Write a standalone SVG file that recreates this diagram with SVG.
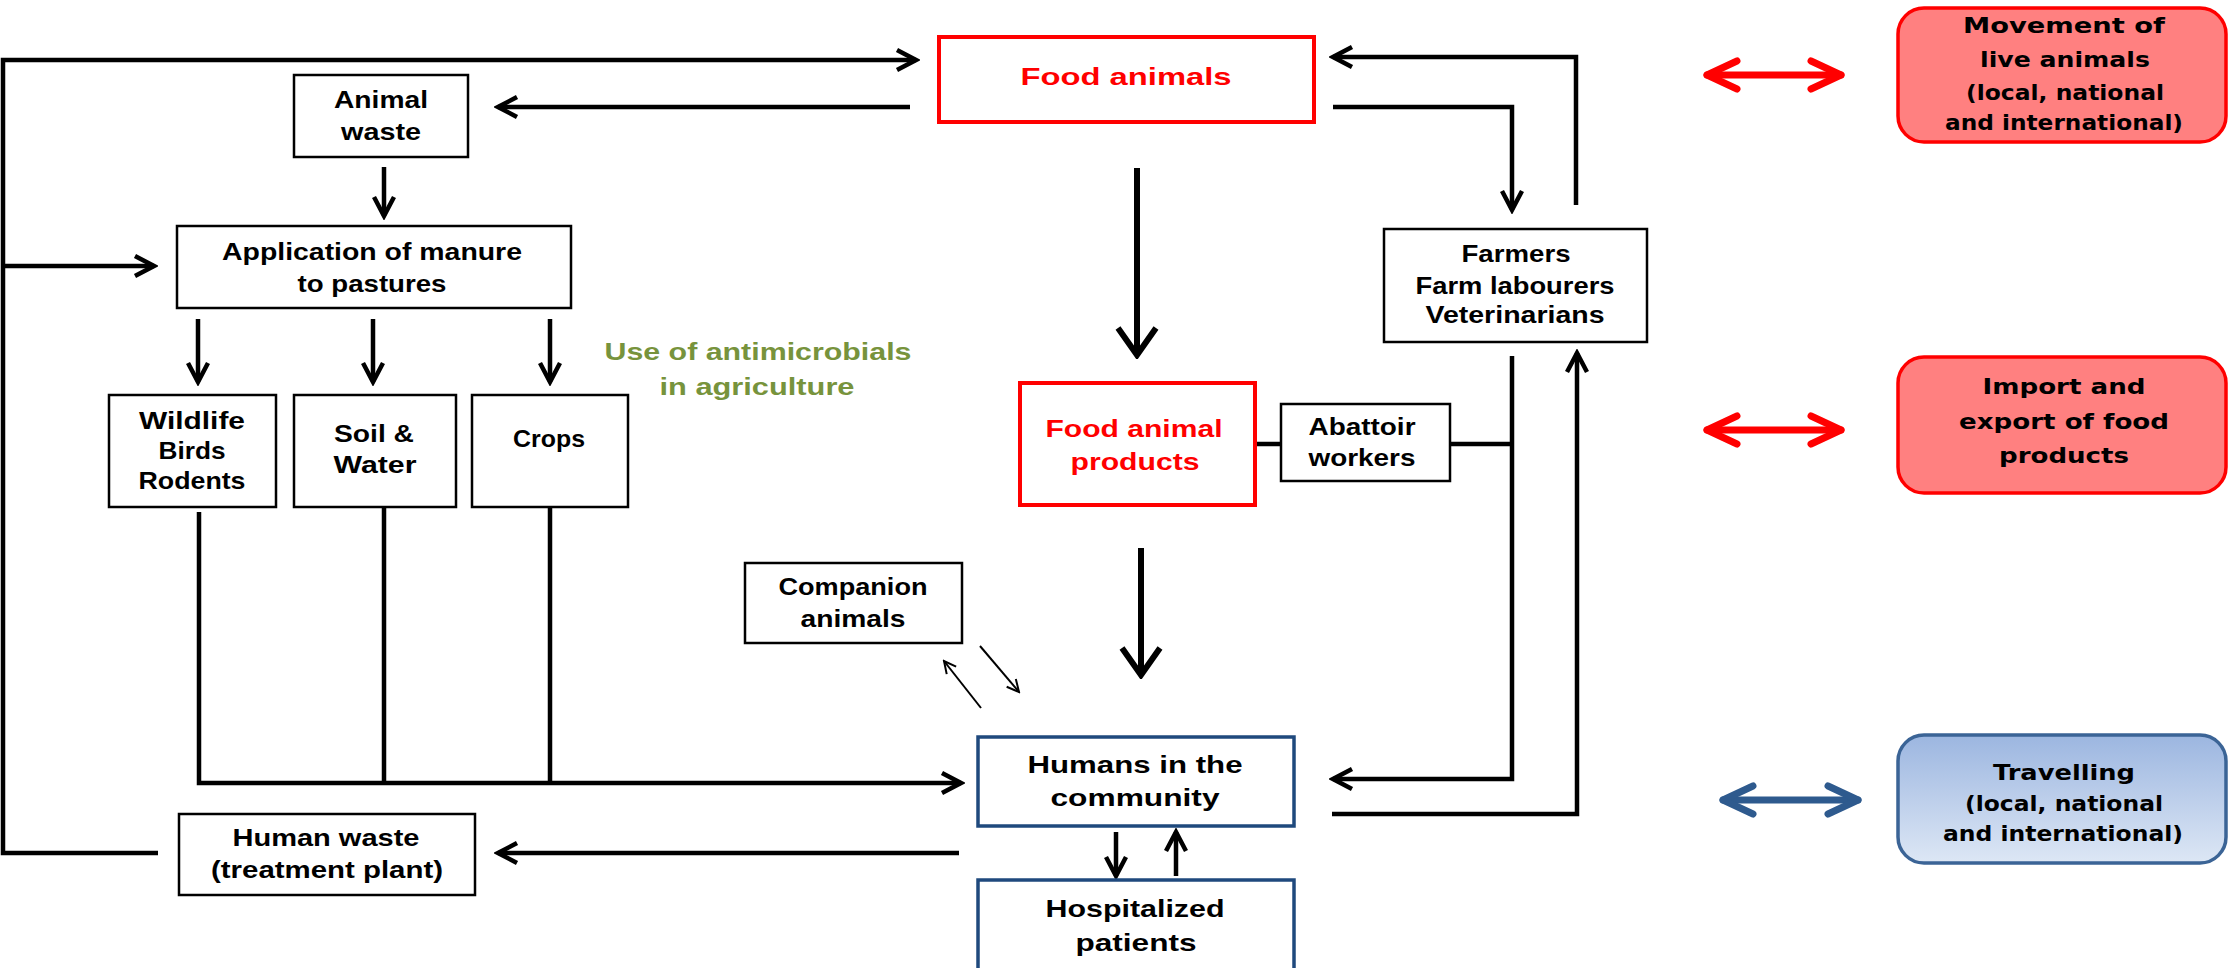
<svg xmlns="http://www.w3.org/2000/svg" width="2228" height="968" viewBox="0 0 2228 968">
<style>
.box{fill:#fff;stroke:#000;stroke-width:2.5}
.rbox{fill:#fff;stroke:#ff0000;stroke-width:4}
.bbox{fill:#fff;stroke:#1f497d;stroke-width:3.5}
.t{font-family:"Liberation Sans",Arial,sans-serif;font-weight:bold;font-size:24px;fill:#000;text-anchor:middle}
.tr{fill:#ff0000}
.tg{fill:#77933c}
.v{font-family:"DejaVu Sans",Verdana,sans-serif;font-weight:bold;font-size:22px;fill:#000;text-anchor:middle}
.c{fill:none;stroke:#000;stroke-width:4.5}
.ck{fill:none;stroke:#000;stroke-width:6}
.cn{fill:none;stroke:#000;stroke-width:2}
.red2{fill:none;stroke:#ff0000;stroke-width:7;stroke-linecap:round}
.blue2{fill:none;stroke:#2e5a8e;stroke-width:7;stroke-linecap:round}
</style>
<defs>
<marker id="ah" markerUnits="userSpaceOnUse" viewBox="0 0 26 26" refX="22" refY="13" markerWidth="26" markerHeight="26" orient="auto">
<path d="M3,3 L22,13 L3,23" fill="none" stroke="#000" stroke-width="4.5"/>
</marker>
<marker id="ahk" markerUnits="userSpaceOnUse" viewBox="0 0 34 44" refX="30" refY="22" markerWidth="34" markerHeight="44" orient="auto">
<path d="M3,3 L30,22 L3,41" fill="none" stroke="#000" stroke-width="6"/>
</marker>
<marker id="ahn" markerUnits="userSpaceOnUse" viewBox="0 0 16 16" refX="14" refY="8" markerWidth="16" markerHeight="16" orient="auto">
<path d="M2,2 L14,8 L2,14" fill="none" stroke="#000" stroke-width="2"/>
</marker>
<marker id="ahr" markerUnits="userSpaceOnUse" viewBox="0 0 40 36" refX="34" refY="18" markerWidth="40" markerHeight="36" orient="auto-start-reverse">
<path d="M4,4 L34,18 L4,32" fill="none" stroke="#ff0000" stroke-width="7" stroke-linecap="round" stroke-linejoin="round"/>
</marker>
<marker id="ahb" markerUnits="userSpaceOnUse" viewBox="0 0 40 36" refX="34" refY="18" markerWidth="40" markerHeight="36" orient="auto-start-reverse">
<path d="M4,4 L34,18 L4,32" fill="none" stroke="#2e5a8e" stroke-width="7" stroke-linecap="round" stroke-linejoin="round"/>
</marker>
<linearGradient id="gb" x1="0" y1="0" x2="0" y2="1">
<stop offset="0" stop-color="#9cb6e0"/>
<stop offset="1" stop-color="#dde7f5"/>
</linearGradient>
</defs>
<rect width="2228" height="968" fill="#fff"/>

<g id="connectors">
<path class="c" d="M158,853 H3 V60 H916" marker-end="url(#ah)"/>
<path class="c" d="M3,266 H154" marker-end="url(#ah)"/>
<path class="c" d="M910,107 H498" marker-end="url(#ah)"/>
<path class="c" d="M384,167 V216" marker-end="url(#ah)"/>
<path class="c" d="M198,319 V382" marker-end="url(#ah)"/>
<path class="c" d="M373,319 V382" marker-end="url(#ah)"/>
<path class="c" d="M550,319 V382" marker-end="url(#ah)"/>
<path class="c" d="M199,512 V783 H961" marker-end="url(#ah)"/>
<path class="c" d="M384,507 V783"/>
<path class="c" d="M550,507 V783"/>
<path class="ck" d="M1137,168 V355" marker-end="url(#ahk)"/>
<path class="ck" d="M1141,548 V675" marker-end="url(#ahk)"/>
<path class="c" d="M1333,107 H1512 V210" marker-end="url(#ah)"/>
<path class="c" d="M1576,205 V57 H1333" marker-end="url(#ah)"/>
<path class="c" d="M1255,444 H1281"/>
<path class="c" d="M1450,444 H1512"/>
<path class="c" d="M1512,356 V779 H1333" marker-end="url(#ah)"/>
<path class="c" d="M1332,814 H1577 V353" marker-end="url(#ah)"/>
<path class="c" d="M959,853 H498" marker-end="url(#ah)"/>
<path class="c" d="M1116,832 V876" marker-end="url(#ah)"/>
<path class="c" d="M1176,876 V832" marker-end="url(#ah)"/>
<path class="cn" d="M981,708 L944,661" marker-end="url(#ahn)"/>
<path class="cn" d="M980,646 L1019,692" marker-end="url(#ahn)"/>
<path class="red2" d="M1707,75 H1841" marker-start="url(#ahr)" marker-end="url(#ahr)"/>
<path class="red2" d="M1707,430 H1841" marker-start="url(#ahr)" marker-end="url(#ahr)"/>
<path class="blue2" d="M1723,800 H1858" marker-start="url(#ahb)" marker-end="url(#ahb)"/>
</g>

<g id="food-animals">
<rect class="rbox" x="939" y="37" width="375" height="85"/>
<text class="t tr" x="1126" y="85" font-size="26" textLength="211" lengthAdjust="spacingAndGlyphs">Food animals</text>
</g>
<g id="animal-waste">
<rect class="box" x="294" y="75" width="174" height="82"/>
<text class="t" x="381" y="108" textLength="94" lengthAdjust="spacingAndGlyphs">Animal</text>
<text class="t" x="381" y="140" textLength="80" lengthAdjust="spacingAndGlyphs">waste</text>
</g>
<g id="application">
<rect class="box" x="177" y="226" width="394" height="82"/>
<text class="t" x="372" y="260" textLength="300" lengthAdjust="spacingAndGlyphs">Application of manure</text>
<text class="t" x="372" y="292" textLength="149" lengthAdjust="spacingAndGlyphs">to pastures</text>
</g>
<g id="wildlife">
<rect class="box" x="109" y="395" width="167" height="112"/>
<text class="t" x="192" y="429" textLength="106" lengthAdjust="spacingAndGlyphs">Wildlife</text>
<text class="t" x="192" y="459" textLength="67" lengthAdjust="spacingAndGlyphs">Birds</text>
<text class="t" x="192" y="489" textLength="107" lengthAdjust="spacingAndGlyphs">Rodents</text>
</g>
<g id="soil-water">
<rect class="box" x="294" y="395" width="162" height="112"/>
<text class="t" x="374" y="442" textLength="80" lengthAdjust="spacingAndGlyphs">Soil &amp;</text>
<text class="t" x="375" y="473" textLength="83" lengthAdjust="spacingAndGlyphs">Water</text>
</g>
<g id="crops">
<rect class="box" x="472" y="395" width="156" height="112"/>
<text class="t" x="549" y="447" textLength="72" lengthAdjust="spacingAndGlyphs">Crops</text>
</g>
<g id="antimicrobials-label">
<text class="t tg" x="758" y="360" textLength="307" lengthAdjust="spacingAndGlyphs">Use of antimicrobials</text>
<text class="t tg" x="757" y="395" textLength="195" lengthAdjust="spacingAndGlyphs">in agriculture</text>
</g>
<g id="food-animal-products">
<rect class="rbox" x="1020" y="383" width="235" height="122"/>
<text class="t tr" x="1134" y="437" textLength="177" lengthAdjust="spacingAndGlyphs">Food animal</text>
<text class="t tr" x="1135" y="470" textLength="129" lengthAdjust="spacingAndGlyphs">products</text>
</g>
<g id="abattoir-workers">
<rect class="box" x="1281" y="404" width="169" height="77"/>
<text class="t" x="1362" y="435" textLength="107" lengthAdjust="spacingAndGlyphs">Abattoir</text>
<text class="t" x="1362" y="466" textLength="107" lengthAdjust="spacingAndGlyphs">workers</text>
</g>
<g id="farmers">
<rect class="box" x="1384" y="229" width="263" height="113"/>
<text class="t" x="1516" y="262" textLength="109" lengthAdjust="spacingAndGlyphs">Farmers</text>
<text class="t" x="1515" y="294" textLength="199" lengthAdjust="spacingAndGlyphs">Farm labourers</text>
<text class="t" x="1515" y="323" textLength="179" lengthAdjust="spacingAndGlyphs">Veterinarians</text>
</g>
<g id="companion-animals">
<rect class="box" x="745" y="563" width="217" height="80"/>
<text class="t" x="853" y="595" textLength="149" lengthAdjust="spacingAndGlyphs">Companion</text>
<text class="t" x="853" y="627" textLength="105" lengthAdjust="spacingAndGlyphs">animals</text>
</g>
<g id="humans-community">
<rect class="bbox" x="978" y="737" width="316" height="89"/>
<text class="t" x="1135" y="773" textLength="215" lengthAdjust="spacingAndGlyphs">Humans in the</text>
<text class="t" x="1135" y="806" textLength="169" lengthAdjust="spacingAndGlyphs">community</text>
</g>
<g id="hospitalized-patients">
<rect class="bbox" x="978" y="880" width="316" height="100"/>
<text class="t" x="1135" y="917" textLength="179" lengthAdjust="spacingAndGlyphs">Hospitalized</text>
<text class="t" x="1136" y="951" textLength="121" lengthAdjust="spacingAndGlyphs">patients</text>
</g>
<g id="human-waste">
<rect class="box" x="179" y="814" width="296" height="81"/>
<text class="t" x="326" y="846" textLength="187" lengthAdjust="spacingAndGlyphs">Human waste</text>
<text class="t" x="327" y="878" textLength="232" lengthAdjust="spacingAndGlyphs">(treatment plant)</text>
</g>
<g id="movement-live-animals">
<rect x="1898" y="8" width="328" height="134" rx="26" fill="#ff8080" stroke="#ff0000" stroke-width="3.5"/>
<text class="v" x="2064" y="33" textLength="202" lengthAdjust="spacingAndGlyphs">Movement of</text>
<text class="v" x="2065" y="67" textLength="170" lengthAdjust="spacingAndGlyphs">live animals</text>
<text class="v" x="2065" y="100" textLength="198" lengthAdjust="spacingAndGlyphs">(local, national</text>
<text class="v" x="2064" y="130" textLength="238" lengthAdjust="spacingAndGlyphs">and international)</text>
</g>
<g id="import-export">
<rect x="1898" y="357" width="328" height="136" rx="26" fill="#ff8080" stroke="#ff0000" stroke-width="3.5"/>
<text class="v" x="2064" y="394" textLength="163" lengthAdjust="spacingAndGlyphs">Import and</text>
<text class="v" x="2064" y="429" textLength="210" lengthAdjust="spacingAndGlyphs">export of food</text>
<text class="v" x="2064" y="463" textLength="130" lengthAdjust="spacingAndGlyphs">products</text>
</g>
<g id="travelling">
<rect x="1898" y="735" width="328" height="128" rx="26" fill="url(#gb)" stroke="#3b6496" stroke-width="3.5"/>
<text class="v" x="2064" y="780" textLength="142" lengthAdjust="spacingAndGlyphs">Travelling</text>
<text class="v" x="2064" y="811" textLength="198" lengthAdjust="spacingAndGlyphs">(local, national</text>
<text class="v" x="2063" y="841" textLength="240" lengthAdjust="spacingAndGlyphs">and international)</text>
</g>
</svg>
